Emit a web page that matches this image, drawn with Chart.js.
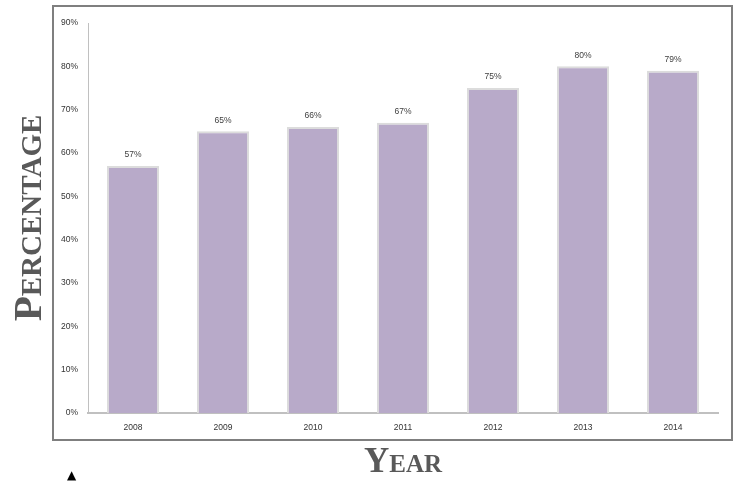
<!DOCTYPE html>
<html>
<head>
<meta charset="utf-8">
<title>Percentage by year</title>
<script src="https://cdn.jsdelivr.net/npm/chart.js@4.4.1/dist/chart.umd.min.js"></script>
<style>
  html, body { margin: 0; padding: 0; background: #fff; }
  #wrap { position: relative; width: 737px; height: 482px; }
  #mark { position: absolute; left: 67px; top: 468px; font: 12px 'DejaVu Sans'; color: #000; }
</style>
</head>
<body>
<div id="wrap">
  <canvas id="yearChart" width="737" height="482"></canvas>
  <span id="mark">▲</span>
</div>
<script>
const years = ['2008', '2009', '2010', '2011', '2012', '2013', '2014'];
const percentages = [57, 65, 66, 67, 75, 80, 79];
const yMax = 90;
const yStep = 10;

// outer frame around the plot, like the spreadsheet chart box
const framePlugin = {
    id: 'frame',
    beforeDraw(chart) {
        const ctx = chart.ctx;
        ctx.save();
        ctx.strokeStyle = '#7f7f7f';
        ctx.lineWidth = 2;
        ctx.strokeRect(53, 6, 679, 434);
        ctx.restore();
    }
};

// value labels above each bar
const valueLabels = {
    id: 'valueLabels',
    afterDatasetsDraw(chart) {
        const ctx = chart.ctx;
        const meta = chart.getDatasetMeta(0);
        ctx.save();
        ctx.font = "8.5px 'Liberation Sans'";
        ctx.fillStyle = '#404040';
        ctx.textAlign = 'center';
        ctx.textBaseline = 'middle';
        meta.data.forEach((bar, i) => {
            ctx.fillText(percentages[i] + '%', bar.x, bar.y - 11);
        });
        ctx.restore();
    }
};

new Chart(document.getElementById('yearChart'), {
    type: 'bar',
    data: {
        labels: years,
        datasets: [{
            data: percentages,
            backgroundColor: '#b8aac9',
            borderColor: '#dcdcdc',
            borderWidth: 2,
            borderSkipped: 'bottom',
            categoryPercentage: 1,
            barPercentage: 0.58
        }]
    },
    options: {
        responsive: false,
        animation: false,
        layout: { padding: { top: 23, right: 19, bottom: 0, left: 0 } },
        plugins: { legend: { display: false }, tooltip: { enabled: false } },
        scales: {
            x: {
                grid: { display: false, drawTicks: false },
                border: { display: true, color: '#c0c0c0', width: 2 },
                ticks: { color: '#333', padding: 10, font: { family: 'Liberation Sans', size: 8.5 } },
                title: {
                    display: true, text: 'Year', color: '#595959', padding: { top: 0, bottom: 0 },
                    font: { family: 'Liberation Serif', weight: 'small-caps bold', size: 35, lineHeight: 1.1 }
                },
                afterFit(scale) { scale.height = 69; }
            },
            y: {
                min: 0, max: yMax,
                grid: { display: false, drawTicks: false },
                border: { display: true, color: '#c0c0c0', width: 1 },
                ticks: {
                    stepSize: yStep, color: '#333', padding: 10,
                    font: { family: 'Liberation Sans', size: 8.5 },
                    callback: v => v + '%'
                },
                title: {
                    display: true, text: 'Percentage', color: '#595959', padding: { top: 8, bottom: 0 },
                    font: { family: 'Liberation Serif', weight: 'small-caps bold', size: 41, lineHeight: 1.1 }
                },
                afterFit(scale) { scale.width = 88; }
            }
        }
    },
    plugins: [framePlugin, valueLabels]
});
</script>
</body>
</html>
